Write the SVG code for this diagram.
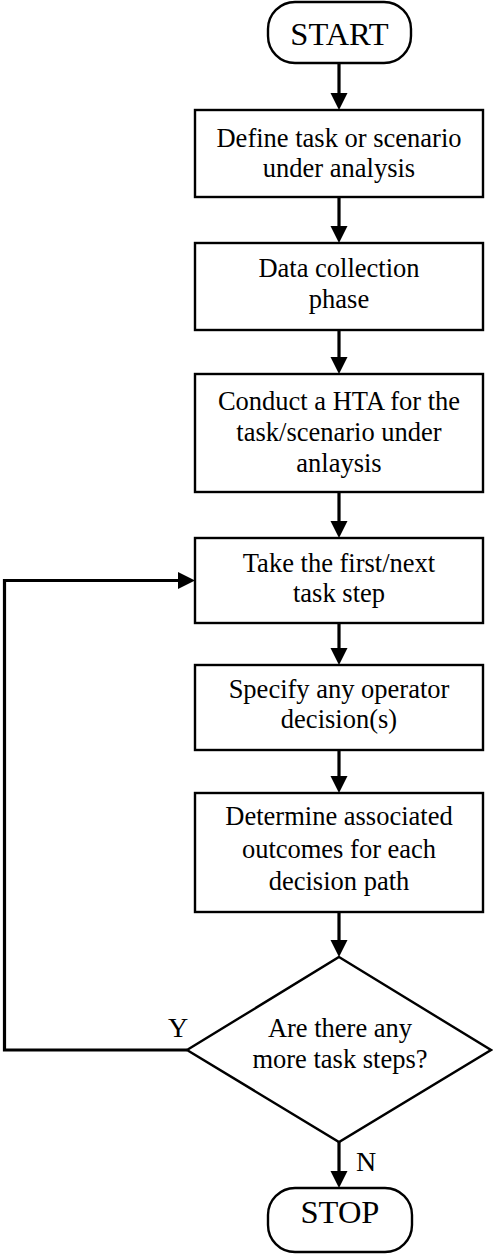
<svg xmlns="http://www.w3.org/2000/svg" width="493" height="1254" viewBox="0 0 493 1254">
  <style>
    .box { fill: #fff; stroke: #000; stroke-width: 2.4; }
    .lbl { font-family: "Liberation Serif", "Times New Roman", serif; font-size: 26.5px; fill: #000; text-anchor: middle; }
    .term { font-family: "Liberation Serif", "Times New Roman", serif; font-size: 32.5px; fill: #000; text-anchor: middle; }
    .yn { font-family: "Liberation Serif", "Times New Roman", serif; font-size: 28px; fill: #000; }
    .flow { fill: none; stroke: #000; stroke-width: 3.2; }
  </style>
  <defs>
    <marker id="arrow" markerUnits="userSpaceOnUse" markerWidth="18" markerHeight="18" refX="11" refY="8.5" orient="auto">
      <path d="M0,0 L17,8.5 L0,17 z" fill="#000"/>
    </marker>
  </defs>
  <rect width="493" height="1254" fill="#fff"/>

  <!-- connectors -->
  <g id="connectors">
    <line class="flow" x1="339" y1="63" x2="339" y2="104" marker-end="url(#arrow)"/>
    <line class="flow" x1="339" y1="197" x2="339" y2="237" marker-end="url(#arrow)"/>
    <line class="flow" x1="339" y1="330" x2="339" y2="368" marker-end="url(#arrow)"/>
    <line class="flow" x1="339" y1="492" x2="339" y2="532" marker-end="url(#arrow)"/>
    <line class="flow" x1="339" y1="623" x2="339" y2="659" marker-end="url(#arrow)"/>
    <line class="flow" x1="339" y1="750" x2="339" y2="787" marker-end="url(#arrow)"/>
    <line class="flow" x1="339" y1="912" x2="339" y2="951" marker-end="url(#arrow)"/>
    <line class="flow" x1="339" y1="1142" x2="339" y2="1182" marker-end="url(#arrow)"/>
    <polyline class="flow" points="187,1050 4.5,1050 4.5,580.5 189,580.5" marker-end="url(#arrow)"/>
    <text class="yn" x="168" y="1037">Y</text>
    <text class="yn" x="356" y="1171">N</text>
  </g>

  <g id="start">
    <rect class="box" x="268" y="2" width="143" height="61" rx="27" ry="27"/>
    <text class="term" x="339.5" y="45">START</text>
  </g>

  <g id="define-task">
    <rect class="box" x="195" y="110" width="288" height="87"/>
    <text class="lbl" x="339" y="147">Define task or scenario</text>
    <text class="lbl" x="339" y="177">under analysis</text>
  </g>

  <g id="data-collection">
    <rect class="box" x="195" y="243" width="288" height="87"/>
    <text class="lbl" x="339" y="277">Data collection</text>
    <text class="lbl" x="339" y="308">phase</text>
  </g>

  <g id="conduct-hta">
    <rect class="box" x="195" y="374" width="288" height="118"/>
    <text class="lbl" x="339" y="410">Conduct a HTA for the</text>
    <text class="lbl" x="339" y="441">task/scenario under</text>
    <text class="lbl" x="339" y="472">anlaysis</text>
  </g>

  <g id="take-step">
    <rect class="box" x="195" y="538" width="288" height="85"/>
    <text class="lbl" x="339" y="572">Take the first/next</text>
    <text class="lbl" x="339" y="602">task step</text>
  </g>

  <g id="specify-decisions">
    <rect class="box" x="195" y="665" width="288" height="85"/>
    <text class="lbl" x="339" y="698">Specify any operator</text>
    <text class="lbl" x="339" y="728">decision(s)</text>
  </g>

  <g id="determine-outcomes">
    <rect class="box" x="195" y="793" width="288" height="119"/>
    <text class="lbl" x="339" y="825">Determine associated</text>
    <text class="lbl" x="339" y="858">outcomes for each</text>
    <text class="lbl" x="339" y="890">decision path</text>
  </g>

  <g id="more-steps">
    <polygon class="box" stroke-width="2.6" points="339,957 491,1050 339,1142 187,1050"/>
    <text class="lbl" x="340" y="1037">Are there any</text>
    <text class="lbl" x="340" y="1068">more task steps?</text>
  </g>

  <g id="stop">
    <rect class="box" x="268" y="1188" width="144" height="64" rx="27" ry="27"/>
    <text class="term" x="340" y="1223">STOP</text>
  </g>
</svg>
